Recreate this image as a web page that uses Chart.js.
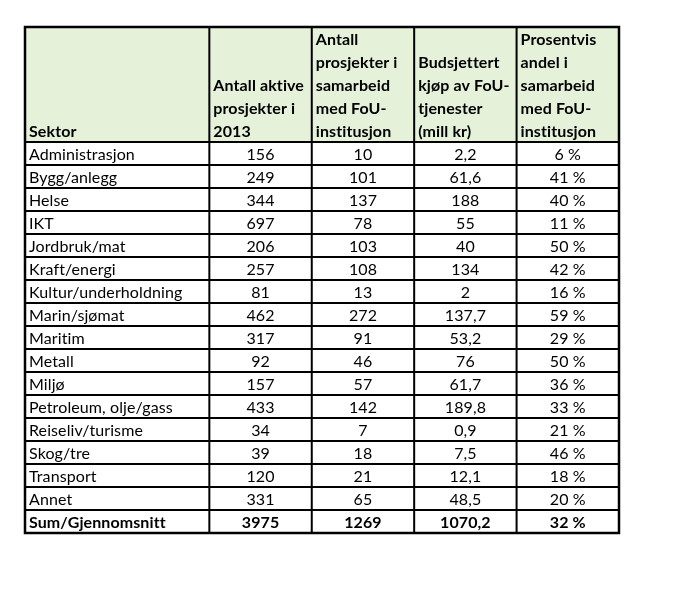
<!DOCTYPE html>
<html>
<head>
<meta charset="utf-8">
<script src="https://cdn.jsdelivr.net/npm/chart.js@4.4.1/dist/chart.umd.min.js"></script>
<style>
  html, body { margin: 0; padding: 0; background: #ffffff; }
  #wrap { width: 674px; height: 603px; position: relative; }
</style>
</head>
<body>
<div id="wrap"><canvas id="c" width="674" height="603"></canvas></div>
<script>
// ---- Data ----
const sectors = ['Administrasjon','Bygg/anlegg','Helse','IKT','Jordbruk/mat','Kraft/energi','Kultur/underholdning','Marin/sjømat','Maritim','Metall','Miljø','Petroleum, olje/gass','Reiseliv/turisme','Skog/tre','Transport','Annet'];
const activeProjects = [156,249,344,697,206,257,81,462,317,92,157,433,34,39,120,331];
const collabProjects = [10,101,137,78,103,108,13,272,91,46,57,142,7,18,21,65];
const budgetMill = [2.2,61.6,188,55,40,134,2,137.7,53.2,76,61.7,189.8,0.9,7.5,12.1,48.5];
const collabShare = [6,41,40,11,50,42,16,59,29,50,36,33,21,46,18,20];
const totalLabel = 'Sum/Gjennomsnitt';
const totalRow = [3975,1269,1070.2,32];
const headers = [
  ['Sektor'],
  ['Antall aktive','prosjekter i','2013'],
  ['Antall','prosjekter i','samarbeid','med FoU-','institusjon'],
  ['Budsjettert','kjøp av FoU-','tjenester','(mill kr)'],
  ['Prosentvis','andel i','samarbeid','med FoU-','institusjon']
];

// ---- Layout (options only) ----
const colEdges = [0, 1.8, 2.8, 3.8, 4.8, 5.8];
const headerRows = 5;
const nRows = headerRows + sectors.length + 1;
const FONT = 'Lato, "Open Sans", sans-serif';

const fmtNum = v => String(v).replace('.', ',');
const fmtPct = v => v + ' %';

// Build rows of cell strings
const bodyRows = sectors.map((s, i) => [s, String(activeProjects[i]), String(collabProjects[i]), fmtNum(budgetMill[i]), fmtPct(collabShare[i])]);
bodyRows.push([totalLabel, String(totalRow[0]), String(totalRow[1]), fmtNum(totalRow[2]), fmtPct(totalRow[3])]);

// Points at cell centres (invisible) to anchor the data to the scales
const points = [];
bodyRows.forEach((r, ri) => r.forEach((c, ci) => points.push({x: (colEdges[ci] + colEdges[ci+1]) / 2, y: headerRows + ri + 0.5, label: c, row: ri, col: ci})));

const tablePlugin = {
  id: 'tablePlugin',
  afterDatasetsDraw(chart) {
    const {ctx, scales: {x, y}} = chart;
    ctx.save();
    const X = v => x.getPixelForValue(v);
    const Y = v => y.getPixelForValue(v);
    // header background
    ctx.fillStyle = '#e6f1da';
    ctx.fillRect(X(0), Y(0), X(colEdges[colEdges.length-1]) - X(0), Y(headerRows) - Y(0));

    if ('letterSpacing' in ctx) ctx.letterSpacing = '0.1px';
    // header text (bottom-aligned, left aligned)
    ctx.fillStyle = '#000';
    ctx.font = 'bold 16px ' + FONT;
    ctx.textBaseline = 'middle';
    ctx.textAlign = 'left';
    headers.forEach((lines, ci) => {
      const start = headerRows - lines.length;
      lines.forEach((t, li) => {
        ctx.fillText(t, X(colEdges[ci]) + 4, Y(start + li + 0.5) + 1);
      });
    });

    // body text
    const meta = chart.getDatasetMeta(0);
    meta.data.forEach((el, i) => {
      const p = points[i];
      const isTotal = p.row === bodyRows.length - 1;
      ctx.font = (isTotal ? 'bold ' : '') + '16px ' + FONT;
      if (p.col === 0) {
        ctx.textAlign = 'left';
        ctx.fillText(p.label, X(colEdges[0]) + 4, el.y + 1);
      } else {
        ctx.textAlign = 'center';
        ctx.fillText(p.label, el.x, el.y + 1);
      }
    });

    // grid lines
    ctx.strokeStyle = '#000';
    ctx.lineCap = 'square';
    ctx.lineWidth = 2;
    for (let r = headerRows; r < nRows; r++) {
      ctx.beginPath();
      ctx.moveTo(X(0), Y(r));
      ctx.lineTo(X(colEdges[colEdges.length-1]), Y(r));
      ctx.stroke();
    }
    for (let c = 1; c < colEdges.length - 1; c++) {
      ctx.beginPath();
      ctx.moveTo(X(colEdges[c]), Y(0));
      ctx.lineTo(X(colEdges[c]), Y(nRows));
      ctx.stroke();
    }
    ctx.lineWidth = 2.5;
    ctx.strokeRect(X(0), Y(0), X(colEdges[colEdges.length-1]) - X(0), Y(nRows) - Y(0));
    ctx.restore();
  }
};

new Chart(document.getElementById('c'), {
  type: 'scatter',
  data: { datasets: [{ data: points, pointRadius: 0, pointHoverRadius: 0, showLine: false }] },
  options: {
    responsive: false,
    animation: false,
    events: [],
    layout: { padding: { left: 25, right: 55, top: 27, bottom: 70 } },
    plugins: { legend: { display: false }, tooltip: { enabled: false } },
    scales: {
      x: { type: 'linear', min: 0, max: colEdges[colEdges.length-1], display: false },
      y: { type: 'linear', min: 0, max: nRows, reverse: true, display: false }
    }
  },
  plugins: [tablePlugin]
});
</script>
</body>
</html>
